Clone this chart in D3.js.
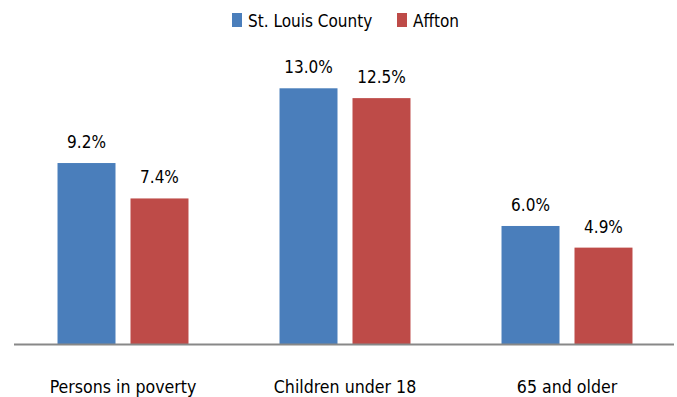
<!DOCTYPE html>
<html>
<head>
<meta charset="utf-8">
<script src="https://cdn.jsdelivr.net/npm/d3@7"></script>
<style>
  html, body { margin: 0; padding: 0; background: #fff; }
  svg text { font-family: "Liberation Sans Narrow", "DejaVu Sans Condensed", sans-serif; fill: #000; }
</style>
</head>
<body>
<svg id="chart" width="677" height="397"></svg>
<script>
// Poverty rates by age group
const categories = ["Persons in poverty", "Children under 18", "65 and older"];
const seriesNames = ["St. Louis County", "Affton"];
const stLouisCounty = [9.2, 13.0, 6.0];
const affton = [7.4, 12.5, 4.9];
const colors = ["#4a7ebb", "#be4b48"];

const seriesValues = [stLouisCounty, affton];
const rows = categories.map((c, i) => ({
  category: c,
  values: seriesNames.map((s, j) => ({ series: s, value: seriesValues[j][i], color: colors[j] }))
}));

const svg = d3.select("#chart");
const baseY = 344;

const x0 = d3.scaleBand()
  .domain(categories)
  .range([12, 678])
  .paddingInner(0.41)
  .paddingOuter(0.205);

const x1 = d3.scaleBand()
  .domain(seriesNames)
  .range([0, x0.bandwidth()])
  .paddingInner(0.2055);

const y = d3.scaleLinear()
  .domain([0, 14])
  .range([baseY, baseY - 14 * 19.67]);

// bars
const groups = svg.append("g").selectAll("g")
  .data(rows)
  .join("g")
  .attr("transform", d => `translate(${x0(d.category)},0)`);

groups.selectAll("rect")
  .data(d => d.values)
  .join("rect")
  .attr("x", d => x1(d.series))
  .attr("y", d => y(d.value))
  .attr("width", x1.bandwidth())
  .attr("height", d => y(0) - y(d.value))
  .attr("fill", d => d.color);

// value labels
groups.selectAll("text")
  .data(d => d.values)
  .join("text")
  .attr("x", d => x1(d.series) + x1.bandwidth() / 2)
  .attr("y", d => y(d.value) - 15)
  .attr("text-anchor", "middle")
  .attr("font-size", 17)
  .text(d => d.value.toFixed(1) + "%");

// category axis
const xAxis = d3.axisBottom(x0).tickSize(0).tickPadding(0);
const axisG = svg.append("g")
  .attr("transform", `translate(0,${baseY})`)
  .call(xAxis);
axisG.select(".domain").remove();
axisG.append("line")
  .attr("x1", 14).attr("x2", 674)
  .attr("y1", 0.5).attr("y2", 0.5)
  .attr("stroke", "#888888")
  .attr("stroke-width", 2);
axisG.selectAll(".tick text")
  .attr("y", 49)
  .attr("dy", 0)
  .attr("font-size", 17.6)
  .style("font-family", "\"Liberation Sans Narrow\", \"DejaVu Sans Condensed\", sans-serif")
  .attr("fill", "#000");

// legend
const legendItems = [
  { name: seriesNames[0], color: colors[0], x: 232 },
  { name: seriesNames[1], color: colors[1], x: 397 }
];
const legend = svg.append("g").selectAll("g")
  .data(legendItems)
  .join("g")
  .attr("transform", d => `translate(${d.x},0)`);
legend.append("rect")
  .attr("x", 0).attr("y", 13)
  .attr("width", 10).attr("height", 14)
  .attr("fill", d => d.color);
legend.append("text")
  .attr("x", 16).attr("y", 27)
  .attr("font-size", 17)
  .text(d => d.name);
</script>
</body>
</html>
